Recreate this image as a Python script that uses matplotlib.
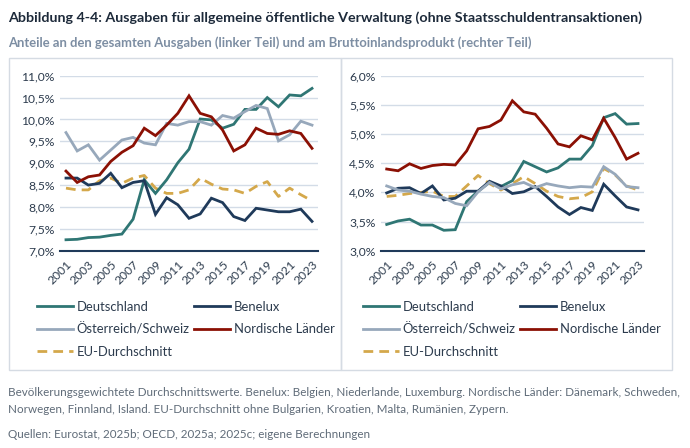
import matplotlib
matplotlib.use("Agg")
import matplotlib.pyplot as plt
from matplotlib.patches import Rectangle
from matplotlib.ticker import FuncFormatter

plt.rcParams["font.family"] = ["Lato", "DejaVu Sans"]

years = list(range(2001, 2024))
tick_years = list(range(2001, 2024, 2))

# Anteile an den gesamten Ausgaben (%)
left_de = [7.25, 7.26, 7.30, 7.31, 7.35, 7.38, 7.72, 8.62, 8.31, 8.62, 9.01, 9.32,
           10.01, 9.99, 9.80, 9.89, 10.23, 10.23, 10.50, 10.29, 10.56, 10.54, 10.71]
left_bnl = [8.66, 8.66, 8.50, 8.54, 8.77, 8.44, 8.56, 8.60, 7.83, 8.21, 8.05, 7.74,
            7.84, 8.20, 8.10, 7.78, 7.69, 7.97, 7.93, 7.89, 7.89, 7.95, 7.67]
left_atch = [9.70, 9.28, 9.42, 9.07, 9.30, 9.53, 9.59, 9.46, 9.42, 9.91, 9.87, 9.95,
             9.95, 9.87, 10.09, 10.03, 10.18, 10.32, 10.25, 9.51, 9.65, 9.96, 9.87]
left_nord = [8.82, 8.56, 8.69, 8.73, 9.04, 9.25, 9.40, 9.80, 9.63, 9.87, 10.14, 10.54,
             10.14, 10.06, 9.76, 9.28, 9.42, 9.80, 9.68, 9.66, 9.74, 9.68, 9.34]
left_eu = [8.43, 8.39, 8.39, 8.60, 8.66, 8.54, 8.66, 8.72, 8.43, 8.31, 8.31, 8.39,
           8.66, 8.52, 8.41, 8.39, 8.31, 8.47, 8.58, 8.24, 8.43, 8.28, 8.14]

# Anteile am Bruttoinlandsprodukt (%)
right_de = [3.45, 3.51, 3.54, 3.44, 3.44, 3.35, 3.36, 3.84, 4.02, 4.17, 4.10, 4.20,
            4.53, 4.44, 4.35, 4.42, 4.57, 4.57, 4.80, 5.28, 5.35, 5.17, 5.18]
right_bnl = [3.99, 4.07, 4.08, 3.98, 4.11, 3.87, 3.90, 4.02, 4.02, 4.19, 4.11, 3.98,
             4.01, 4.10, 3.93, 3.75, 3.62, 3.74, 3.69, 4.14, 3.94, 3.75, 3.70]
right_atch = [4.11, 4.04, 4.02, 3.97, 3.93, 3.91, 3.81, 3.77, 4.01, 4.17, 4.06, 4.13,
              4.17, 4.08, 4.15, 4.11, 4.08, 4.10, 4.09, 4.44, 4.31, 4.10, 4.08]
right_nord = [4.40, 4.37, 4.49, 4.41, 4.46, 4.48, 4.47, 4.71, 5.09, 5.13, 5.24, 5.57,
              5.38, 5.34, 5.10, 4.83, 4.78, 4.97, 4.90, 5.27, 4.94, 4.57, 4.67]
right_eu = [3.93, 3.95, 3.98, 4.00, 4.02, 3.93, 3.93, 4.11, 4.29, 4.15, 4.04, 4.15,
            4.27, 4.15, 4.02, 3.93, 3.89, 3.91, 4.01, 4.41, 4.30, 4.11, 4.04]

labels = ["Deutschland", "Benelux", "Österreich/Schweiz", "Nordische Länder", "EU-Durchschnitt"]
colors = ["#2f7674", "#1f3a5a", "#97a8bb", "#8b1004", "#d4a84b"]

W, H = 690, 448
fig = plt.figure(figsize=(W / 100, H / 100), dpi=100)


def px(x0, y0, x1, y1):
    # pixel box (top-left origin) -> figure fraction rect
    return [x0 / W, 1 - y1 / H, (x1 - x0) / W, (y1 - y0) / H]


# panel frames
for x0, x1 in [(9, 341), (341, 672)]:
    fig.patches.append(Rectangle((x0 / W, 1 - 370 / H), (x1 - x0) / W, (370 - 58) / H,
                                 transform=fig.transFigure, fill=False,
                                 edgecolor="#d5dbe3", linewidth=1.0))

fig.text(8 / W, 1 - 18 / H, "Abbildung 4-4: Ausgaben für allgemeine öffentliche Verwaltung (ohne Staatsschuldentransaktionen)",
         fontsize=10.25, fontweight="bold", color="#1d2a3a", va="center", ha="left")
fig.text(8 / W, 1 - 43 / H, "Anteile an den gesamten Ausgaben (linker Teil) und am Bruttoinlandsprodukt (rechter Teil)",
         fontsize=9.4, fontweight="bold", color="#7d8ea3", va="center", ha="left")

pct = FuncFormatter(lambda v, p: f"{v:.1f}".replace(".", ",") + "%")


def panel(rect, series, ylim, yticks, leg_x):
    ax = fig.add_axes(rect)
    for vals, lab, col in zip(series, labels, colors):
        if lab == "EU-Durchschnitt":
            ax.plot(years, vals, color=col, lw=2.0, dashes=(3.5, 2.2), label=lab, zorder=2)
        else:
            ax.plot(years, vals, color=col, lw=2.0, label=lab, zorder=3,
                    solid_joinstyle="miter")
    ax.set_xlim(2000.5, 2023.5)
    ax.set_ylim(*ylim)
    ax.set_yticks(yticks)
    ax.yaxis.set_major_formatter(pct)
    ax.set_xticks(tick_years)
    ax.set_xticklabels([str(y) for y in tick_years], rotation=45, ha="right",
                       rotation_mode="anchor")
    ax.grid(axis="y", color="#d3dce7", lw=1.0)
    ax.set_axisbelow(True)
    for s in ["top", "right", "left"]:
        ax.spines[s].set_visible(False)
    ax.spines["bottom"].set_color("#1f3a5a")
    ax.spines["bottom"].set_linewidth(1.5)
    ax.tick_params(length=0, labelsize=8.7, labelcolor="#2c3b4d", pad=4)
    ax.tick_params(axis="x", pad=6)
    h, l = ax.get_legend_handles_labels()
    order = [0, 2, 4, 1, 3]
    ax.legend([h[i] for i in order], [l[i] for i in order], ncol=2, frameon=False,
              loc="upper left", bbox_to_anchor=(leg_x / W, 1 - 301 / H),
              bbox_transform=fig.transFigure, fontsize=9.4, handlelength=2.75,
              handletextpad=0.3, labelspacing=0.78, columnspacing=0.3,
              borderaxespad=0, borderpad=0, labelcolor="#2c3b4d")
    return ax


panel(px(60.4, 75.7, 317.6, 250.7),
      [left_de, left_bnl, left_atch, left_nord, left_eu],
      (7.0, 11.0), [7.0 + 0.5 * i for i in range(9)], 37)
panel(px(381, 75.7, 643.7, 250.7),
      [right_de, right_bnl, right_atch, right_nord, right_eu],
      (3.0, 6.0), [3.0 + 0.5 * i for i in range(7)], 363)

foot = "#5f6b78"
fig.text(8 / W, 1 - 392 / H,
         "Bevölkerungsgewichtete Durchschnittswerte. Benelux: Belgien, Niederlande, Luxemburg. Nordische Länder: Dänemark, Schweden,",
         fontsize=8.4, color=foot, va="center")
fig.text(8 / W, 1 - 409 / H,
         "Norwegen, Finnland, Island. EU-Durchschnitt ohne Bulgarien, Kroatien, Malta, Rumänien, Zypern.",
         fontsize=8.4, color=foot, va="center")
fig.text(8 / W, 1 - 434 / H, "Quellen: Eurostat, 2025b; OECD, 2025a; 2025c; eigene Berechnungen",
         fontsize=8.4, color=foot, va="center")

fig.savefig("out.png", dpi=100)
